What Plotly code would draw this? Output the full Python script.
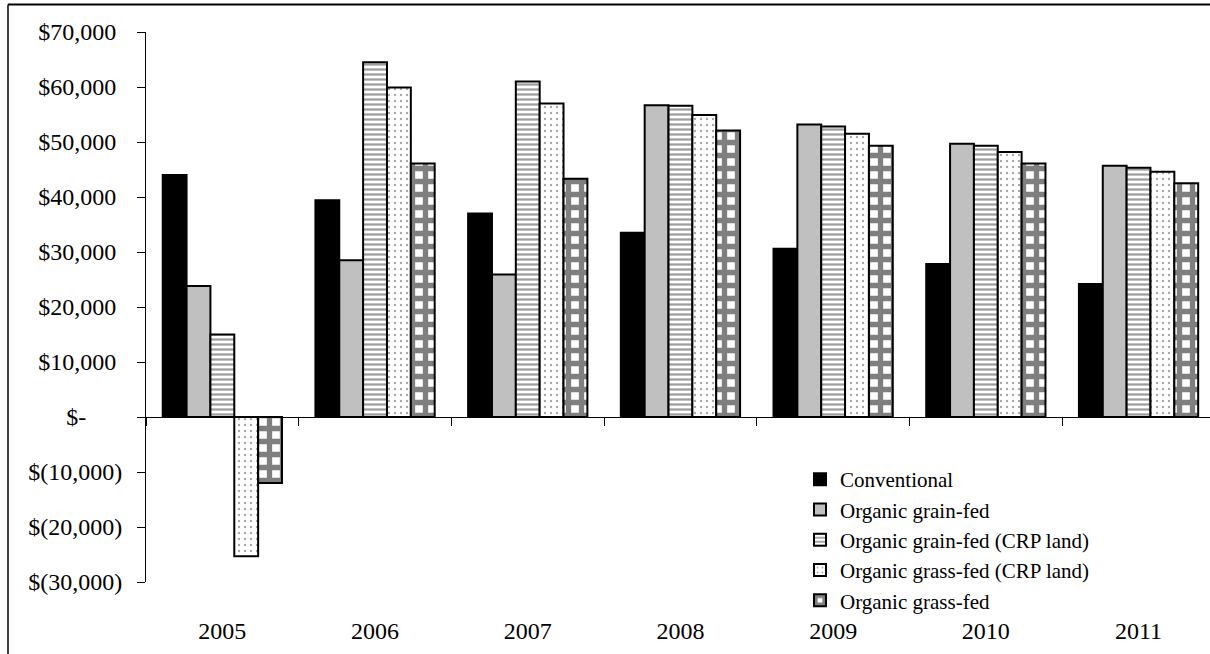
import plotly.graph_objects as go

# Net returns by production system, 2005-2011
years = ["2005", "2006", "2007", "2008", "2009", "2010", "2011"]
conventional = [44000, 39400, 37000, 33500, 30600, 27800, 24200]
organic_grain = [23800, 28500, 25900, 56700, 53200, 49700, 45700]
organic_grain_crp = [15000, 64500, 61000, 56600, 52800, 49300, 45300]
organic_grass_crp = [-25300, 59900, 57000, 54900, 51500, 48200, 44600]
organic_grass = [-12000, 46100, 43300, 52100, 49300, 46100, 42500]

series_names = [
    "Conventional",
    "Organic grain-fed",
    "Organic grain-fed (CRP land)",
    "Organic grass-fed (CRP land)",
    "Organic grass-fed",
]

y_tickvals = [70000, 60000, 50000, 40000, 30000, 20000, 10000, 0, -10000, -20000, -30000]
y_ticktext = ["$70,000", "$60,000", "$50,000", "$40,000", "$30,000", "$20,000", "$10,000",
              "$-", "$(10,000)", "$(20,000)", "$(30,000)"]

NBSP = "\u00a0"
y_labels = []
for v, t in zip(y_tickvals, y_ticktext):
    if v > 0:
        y_labels.append(t + NBSP)
    elif v == 0:
        y_labels.append(t + NBSP * 6)
    else:
        y_labels.append(t)

FONT = "Liberation Serif"
W, H = 1210, 654
ML, MR, MT, MB = 146, 0, 32, 72
plot_w = W - ML - MR
plot_h = H - MT - MB

styles = [
    dict(color="black", pattern=None),
    dict(color="#c0c0c0", pattern=None),
    dict(color="white", pattern=dict(shape="-", size=5, solidity=0.45,
                                     fgcolor="#3c3c3c", bgcolor="white")),
    dict(color="white", pattern=dict(shape=".", size=6, solidity=0.12,
                                     fgcolor="#505050", bgcolor="white")),
    dict(color="white", pattern=dict(shape="+", size=13, solidity=0.65,
                                     fgcolor="black", bgcolor="white")),
]

values = [conventional, organic_grain, organic_grain_crp, organic_grass_crp, organic_grass]

fig = go.Figure()
for name, vals, st in zip(series_names, values, styles):
    marker = dict(color=st["color"], line=dict(color="black", width=2))
    if st["pattern"] is not None:
        marker["pattern"] = st["pattern"]
    fig.add_trace(go.Bar(x=years, y=vals, name=name, marker=marker))

cat_span = plot_w / 152.7
x_range = [-0.5, -0.5 + cat_span]

fig.update_layout(
    width=W, height=H,
    margin=dict(l=ML, r=MR, t=MT, b=MB),
    paper_bgcolor="white", plot_bgcolor="white",
    barmode="group", bargap=0.219, bargroupgap=0,
    font=dict(family=FONT, color="black", size=22),
    # category axis drawn along the zero line, ticks between the years,
    # year labels pushed down below the plot area
    xaxis=dict(
        type="category", range=x_range,
        anchor="free", position=0.3,
        showline=True, linecolor="black", linewidth=1,
        tickson="boundaries", ticks="outside", ticklen=8,
        tickcolor="black", tickwidth=1,
        showgrid=False, zeroline=False,
        tickfont=dict(family=FONT, size=24, color="black"),
        ticklabelstandoff=192,
    ),
    yaxis=dict(
        range=[-30000, 70000], tickmode="array",
        tickvals=y_tickvals, ticktext=y_labels,
        showline=True, linecolor="black", linewidth=1,
        ticks="outside", ticklen=8, tickcolor="black", tickwidth=1,
        showgrid=False, zeroline=False,
        tickfont=dict(family=FONT, size=24, color="black"),
        ticklabelstandoff=10,
    ),
    legend=dict(
        x=(800 - ML) / plot_w, y=1 - (459 - MT) / plot_h,
        xanchor="left", yanchor="top",
        bgcolor="rgba(0,0,0,0)",
        font=dict(family=FONT, size=21, color="black"),
        traceorder="normal",
    ),
    showlegend=True,
)

# outer frame lines (top and left edges)
fx_left = (8 - ML) / plot_w
fy_top = 1 - (4.5 - MT) / plot_h
fig.add_shape(type="line", xref="paper", yref="paper",
              x0=fx_left, x1=fx_left, y0=-0.3, y1=fy_top,
              line=dict(color="black", width=1.5))
fig.add_shape(type="line", xref="paper", yref="paper",
              x0=fx_left, x1=1.2, y0=fy_top, y1=fy_top,
              line=dict(color="black", width=2))

fig.write_html("out.html")
